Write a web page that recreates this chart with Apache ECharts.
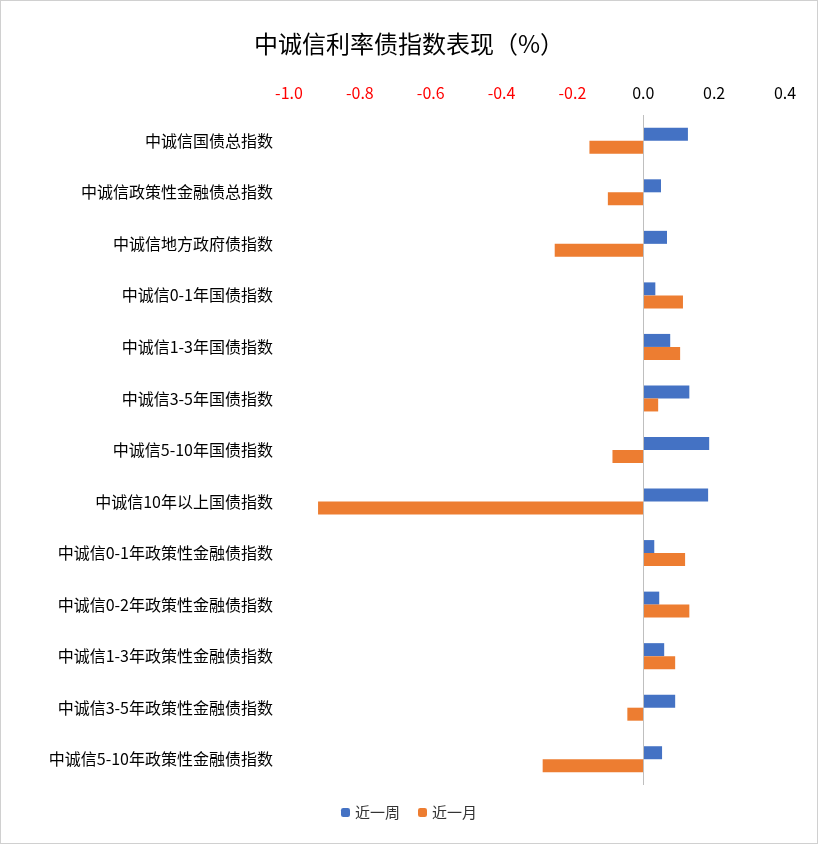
<!DOCTYPE html>
<html><head><meta charset="utf-8">
<script src="https://cdn.jsdelivr.net/npm/echarts@6/dist/echarts.min.js"></script>
<style>html,body{margin:0;padding:0;background:#fff}#c{width:816px;height:842px;border:1px solid #d0d0d0}</style>
</head><body><div id="c"></div>
<script>
const categories = ["中诚信国债总指数","中诚信政策性金融债总指数","中诚信地方政府债指数","中诚信0-1年国债指数","中诚信1-3年国债指数","中诚信3-5年国债指数","中诚信5-10年国债指数","中诚信10年以上国债指数","中诚信0-1年政策性金融债指数","中诚信0-2年政策性金融债指数","中诚信1-3年政策性金融债指数","中诚信3-5年政策性金融债指数","中诚信5-10年政策性金融债指数"];
const week = [0.126,0.050,0.067,0.034,0.076,0.130,0.186,0.183,0.031,0.045,0.059,0.090,0.053];
const month = [-0.152,-0.100,-0.250,0.112,0.104,0.042,-0.087,-0.918,0.118,0.130,0.090,-0.045,-0.284];
const chart = echarts.init(document.getElementById('c'));
const font = "'Microsoft YaHei','Noto Sans CJK SC',sans-serif";
chart.setOption({
  textStyle:{fontFamily:font},
  title:{text:'中诚信利率债指数表现（%）',left:'center',top:26,textStyle:{fontSize:24,fontWeight:'normal',color:'#000',fontFamily:font}},
  legend:{bottom:18,itemWidth:9,itemHeight:9,itemGap:18,textStyle:{fontSize:15,color:'#333'},data:['近一周','近一月']},
  grid:{left:288,right:32,top:114,bottom:58,containLabel:false,outerBoundsMode:'none'},
  xAxis:{type:'value',position:'top',min:-1.0,max:0.4,interval:0.2,
    axisLine:{show:false},axisTick:{show:false},splitLine:{show:false},
    axisLabel:{fontSize:16,margin:14,formatter:v=>v.toFixed(1),color:v=>(v<0?'#ff0000':'#000')}},
  yAxis:{type:'category',data:categories,inverse:true,axisLine:{show:false},axisTick:{show:false},
    axisLabel:{fontSize:16,color:'#000',margin:16}},
  series:[
    {name:'近一周',type:'bar',data:week,barWidth:13,barGap:'0%',itemStyle:{color:'#4472c4'},
     markLine:{silent:true,symbol:'none',label:{show:false},lineStyle:{color:'#bfbfbf',type:'solid',width:1},data:[{xAxis:0}]}},
    {name:'近一月',type:'bar',data:month,barWidth:13,itemStyle:{color:'#ed7d31'}}
  ]
});
</script></body></html>
